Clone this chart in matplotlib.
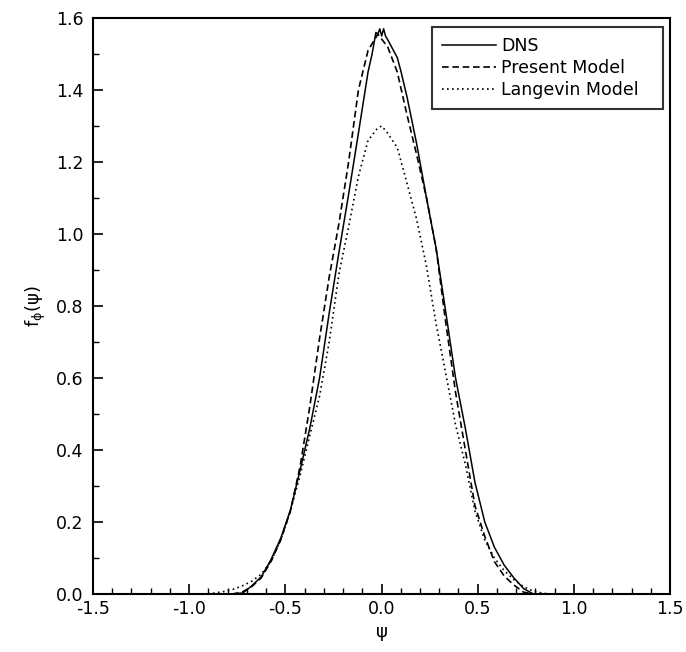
import matplotlib
matplotlib.use("Agg")
import matplotlib.pyplot as plt
from matplotlib.ticker import MultipleLocator, FormatStrFormatter

plt.rcParams['font.family'] = ['DejaVu Sans']
plt.rcParams['mathtext.default'] = 'regular'

# DNS (solid)
dns_x = [-0.77, -0.72, -0.676, -0.625, -0.575, -0.524, -0.474, -0.423, -0.373, -0.322,
         -0.272, -0.221, -0.171, -0.120, -0.070, -0.049, -0.029, -0.019, -0.009, 0.001,
         0.011, 0.021, 0.032, 0.042, 0.062, 0.082, 0.102, 0.133, 0.183, 0.234,
         0.284, 0.335, 0.385, 0.436, 0.486, 0.537, 0.587, 0.638, 0.688, 0.739, 0.789]
dns_y = [0.0, 0.003, 0.022, 0.048, 0.095, 0.155, 0.232, 0.345, 0.46, 0.60,
         0.78, 0.95, 1.11, 1.28, 1.45, 1.50, 1.56, 1.555, 1.57, 1.55,
         1.57, 1.55, 1.54, 1.53, 1.51, 1.49, 1.45, 1.38, 1.25, 1.10,
         0.96, 0.78, 0.60, 0.46, 0.31, 0.20, 0.13, 0.08, 0.045, 0.015, 0.0]

# Present Model (dashed)
pm_x = [-0.777, -0.726, -0.676, -0.625, -0.575, -0.524, -0.474, -0.423, -0.373, -0.322,
        -0.272, -0.221, -0.171, -0.120, -0.070, -0.019, 0.032, 0.082, 0.133, 0.183,
        0.234, 0.284, 0.335, 0.385, 0.436, 0.486, 0.537, 0.587, 0.638, 0.688, 0.739, 0.789]
pm_y = [0.0, 0.005, 0.02, 0.045, 0.09, 0.15, 0.23, 0.355, 0.52, 0.71,
        0.88, 1.03, 1.20, 1.40, 1.51, 1.555, 1.52, 1.45, 1.33, 1.22,
        1.10, 0.96, 0.75, 0.56, 0.40, 0.245, 0.16, 0.09, 0.05, 0.025, 0.005, 0.0]

# Langevin Model (dotted)
lm_x = [-0.928, -0.878, -0.827, -0.777, -0.726, -0.676, -0.625, -0.575, -0.524, -0.474,
        -0.423, -0.373, -0.322, -0.272, -0.221, -0.171, -0.120, -0.070, -0.019, 0.001,
        0.032, 0.082, 0.133, 0.183, 0.234, 0.284, 0.335, 0.385, 0.436, 0.486,
        0.537, 0.587, 0.638, 0.688, 0.739, 0.789, 0.840, 0.890]
lm_y = [0.0, 0.002, 0.006, 0.012, 0.022, 0.035, 0.055, 0.09, 0.15, 0.23,
        0.33, 0.44, 0.55, 0.70, 0.89, 1.02, 1.16, 1.26, 1.295, 1.30,
        1.28, 1.24, 1.14, 1.04, 0.91, 0.75, 0.61, 0.47, 0.36, 0.23,
        0.15, 0.10, 0.065, 0.04, 0.02, 0.008, 0.002, 0.0]

series_labels = ["DNS", "Present Model", "Langevin Model"]

fig = plt.figure(figsize=(6.86, 6.52), dpi=100)
ax = fig.add_axes([93 / 686, 1 - 594 / 652, 577 / 686, 576 / 652])

ax.plot(dns_x, dns_y, color='black', lw=1.1, ls='-', label=series_labels[0])
ax.plot(pm_x, pm_y, color='black', lw=1.2, ls=(0, (4, 2.2)), label=series_labels[1])
ax.plot(lm_x, lm_y, color='black', lw=1.2, ls=(0, (1, 2)), label=series_labels[2])

ax.set_xlim(-1.5, 1.5)
ax.set_ylim(0.0, 1.6)
ax.xaxis.set_major_locator(MultipleLocator(0.5))
ax.xaxis.set_minor_locator(MultipleLocator(0.1))
ax.yaxis.set_major_locator(MultipleLocator(0.2))
ax.yaxis.set_minor_locator(MultipleLocator(0.1))
ax.xaxis.set_major_formatter(FormatStrFormatter('%.1f'))
ax.yaxis.set_major_formatter(FormatStrFormatter('%.1f'))
ax.tick_params(which='both', direction='in', top=False, right=False, labelsize=12.5)
ax.tick_params(axis='x', which='major', pad=4.5)
ax.tick_params(axis='y', which='major', pad=7)
ax.tick_params(which='major', length=7, width=1.2)
ax.tick_params(which='minor', length=4, width=1.0)
for s in ax.spines.values():
    s.set_linewidth(1.5)

ax.set_xlabel(r'$\psi$', fontsize=13)
ax.set_ylabel(r'$f_\phi(\psi)$', fontsize=13)
ax.xaxis.set_label_coords(0.5, -0.054)
ax.yaxis.set_label_coords(-0.078, 0.5)

leg = ax.legend(loc='upper left', bbox_to_anchor=(0.588, 0.0, 0.400, 0.984),
                mode='expand', frameon=True,
                fancybox=False, edgecolor='black', fontsize=12.5,
                handlelength=3.1, handletextpad=0.3, borderpad=0.55,
                labelspacing=0.24, borderaxespad=0.0)
leg.get_frame().set_linewidth(1.5)

fig.savefig('out.png', dpi=100)
